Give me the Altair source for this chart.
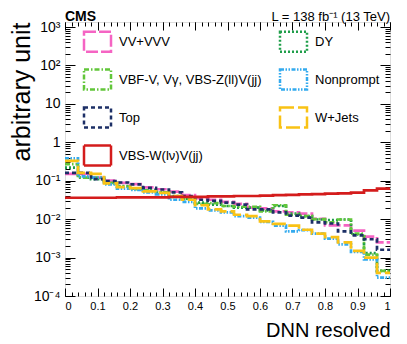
import altair as alt
import pandas as pd

# ---------------- data ----------------
bin_edges = [round(0.04 * i, 2) for i in range(26)]  # 0 ... 1.0

series_names = [
    "VV+VVV", "DY", "VBF-V, Vγ, VBS-Z(ll)V(jj)", "Nonprompt",
    "Top", "W+Jets", "VBS-W(lν)V(jj)",
]

vv_vvv = [0.15, 0.15, 0.12, 0.10, 0.088, 0.082, 0.067, 0.060, 0.052, 0.042, 0.035, 0.032, 0.028,
          0.025, 0.020, 0.019, 0.016, 0.015, 0.014, 0.0102, 0.0069, 0.0069, 0.0050, 0.0035, 0.0025]
dy = [0.22, 0.12, 0.11, 0.085, 0.072, 0.062, 0.055, 0.050, 0.040, 0.034, 0.027, 0.024, 0.022,
      0.020, 0.020, 0.017, 0.022, 0.014, 0.012, 0.0098, 0.0095, 0.0098, 0.0040, 0.0013, 0.00045]
vbf = [0.27, 0.12, 0.12, 0.088, 0.070, 0.060, 0.056, 0.050, 0.038, 0.033, 0.025, 0.026, 0.022,
       0.021, 0.021, 0.016, 0.023, 0.013, 0.012, 0.010, 0.0083, 0.0098, 0.0042, 0.0012, 0.00045]
nonprompt = [0.38, 0.13, 0.12, 0.080, 0.062, 0.058, 0.050, 0.044, 0.032, 0.028, 0.019, 0.017, 0.015,
             0.012, 0.011, 0.0085, 0.0068, 0.0048, 0.0052, 0.0042, 0.0031, 0.0022, 0.0014, 0.0009, 0.0003]
top = [0.16, 0.16, 0.11, 0.098, 0.090, 0.080, 0.065, 0.059, 0.050, 0.040, 0.032, 0.030, 0.027,
       0.024, 0.018, 0.018, 0.015, 0.0124, 0.011, 0.0082, 0.0077, 0.0048, 0.0038, 0.0030, 0.0016]
wjets = [0.33, 0.16, 0.15, 0.085, 0.068, 0.064, 0.053, 0.048, 0.040, 0.032, 0.023, 0.018, 0.016,
         0.013, 0.012, 0.0088, 0.0075, 0.0068, 0.0053, 0.0042, 0.0034, 0.0025, 0.0015, 0.0010, 0.0004]
vbs_w = [0.036, 0.036, 0.036, 0.036, 0.037, 0.037, 0.037, 0.037, 0.038, 0.038, 0.038, 0.039, 0.039,
         0.040, 0.040, 0.041, 0.042, 0.043, 0.044, 0.045, 0.046, 0.047, 0.049, 0.056, 0.062]

series_values = [vv_vvv, dy, vbf, nonprompt, top, wjets, vbs_w]

colors = ["#f564c3", "#1f9e4a", "#62c63a", "#33aaee", "#1c2f66", "#f9c215", "#d41c1c"]
dashes = [[12, 3], [2, 2], [5, 2, 1.5, 2], [4, 1.5, 1.5, 1.5, 1.5, 1.5], [4, 3], [14, 4], [1, 0]]

x_major = [round(0.1 * i, 1) for i in range(11)]
x_minor = [round(0.02 * i, 2) for i in range(51)]
y_major = [1e-4, 1e-3, 1e-2, 1e-1, 1, 10, 100, 1000]
y_minor = [k * d for d in [1e-4, 1e-3, 1e-2, 1e-1, 1, 10, 100, 1000] for k in range(2, 10)
           if k * d <= 1350]
y_labels = "datum.value==1000?'10³':datum.value==100?'10²':datum.value==10?'10':" \
           "datum.value==1?'1':datum.value==0.1?'10⁻¹':datum.value==0.01?'10⁻²':" \
           "datum.value==0.001?'10⁻³':'10⁻⁴'"

header_left = ["CMS"]
header_right = ["L = 138 fb⁻¹ (13 TeV)"]

rows = []
for name, vals in zip(series_names, series_values):
    for i, e in enumerate(bin_edges):
        rows.append({"series": name, "x": e, "y": vals[min(i, len(vals) - 1)]})
df = pd.DataFrame(rows)

# ---------------- layout ----------------
W, H = 325, 274
FONT = "Liberation Sans"
xs = alt.Scale(domain=[0, 1], nice=False, zero=False)
ys = alt.Scale(type="log", domain=[1e-4, 1350], nice=False)

box = "M-1.35,-1L1.35,-1L1.35,1L-1.35,1Z"

legend = alt.Legend(
    orient="none", legendX=21, legendY=8, columns=2, direction="horizontal", title=None,
    symbolType=box, symbolSize=400, symbolStrokeWidth=2.5,
    labelFont=FONT, labelFontSize=13, labelColor="black", labelOffset=10,
    labelLimit=400, columnPadding=13, rowPadding=7)

main = alt.Chart(df).mark_line(interpolate="step-after", strokeWidth=2.7, clip=True).encode(
    x=alt.X("x:Q", scale=xs, axis=alt.Axis(
        values=x_major, format=".1~f", ticks=False, domain=False, grid=False,
        labelFont=FONT, labelFontSize=11, labelColor="black", labelPadding=4,
        title="DNN resolved", titleFont=FONT, titleFontSize=20, titleFontWeight="normal",
        titleColor="black", titleAnchor="end", titlePadding=9)),
    y=alt.Y("y:Q", scale=ys, axis=alt.Axis(
        values=y_major, labelExpr=y_labels, ticks=False, domain=False, grid=False,
        labelFont=FONT, labelFontSize=14, labelColor="black", labelPadding=5,
        title="arbitrary unit", titleFont=FONT, titleFontSize=25, titleFontWeight="normal",
        titleColor="black", titleAnchor="end", titleX=-31)),
    color=alt.Color("series:N", scale=alt.Scale(domain=series_names, range=colors),
                    legend=legend),
    strokeDash=alt.StrokeDash("series:N", scale=alt.Scale(domain=series_names, range=dashes),
                              legend=legend),
)


def tick_layer(xvals, yvals, xsize, ysize, xorient, yorient):
    return alt.Chart(df).mark_point(opacity=0).encode(
        x=alt.X("x:Q", scale=xs, axis=alt.Axis(
            values=xvals, orient=xorient, offset=-H, labels=False, domain=False, grid=False,
            tickSize=xsize, tickColor="black", tickWidth=1, title=None)),
        y=alt.Y("y:Q", scale=ys, axis=alt.Axis(
            values=yvals, orient=yorient, offset=-W, labels=False, domain=False, grid=False,
            tickSize=ysize, tickColor="black", tickWidth=1, title=None)),
    )


t1 = tick_layer(x_major, y_major, 8, 10, "top", "right")      # bottom / left, inward
t2 = tick_layer(x_minor, y_minor, 4, 5, "top", "right")
t3 = tick_layer(x_major, y_major, 8, 10, "bottom", "left")    # top / right, inward
t4 = tick_layer(x_minor, y_minor, 4, 5, "bottom", "left")

cms = alt.Chart(pd.DataFrame({"t": header_left})).mark_text(
    font=FONT, fontSize=14, fontWeight="bold", align="left", baseline="alphabetic",
    color="black").encode(text="t:N", x=alt.value(0), y=alt.value(-1))
lumi = alt.Chart(pd.DataFrame({"t": header_right})).mark_text(
    font=FONT, fontSize=13, align="right", baseline="alphabetic",
    color="black").encode(text="t:N", x=alt.value(W), y=alt.value(-1))

chart = alt.layer(main, t1, t2, t3, t4, cms, lumi).resolve_scale(
    x="independent", y="independent"
).properties(
    width=W, height=H,
    autosize=alt.AutoSizeParams(type="none"),
    padding={"left": 57, "top": 14, "right": 9, "bottom": 48},
).configure_view(stroke="black", strokeWidth=1).configure(background="white")

chart.save("out.html", embed_options={"renderer": "svg", "actions": False})
